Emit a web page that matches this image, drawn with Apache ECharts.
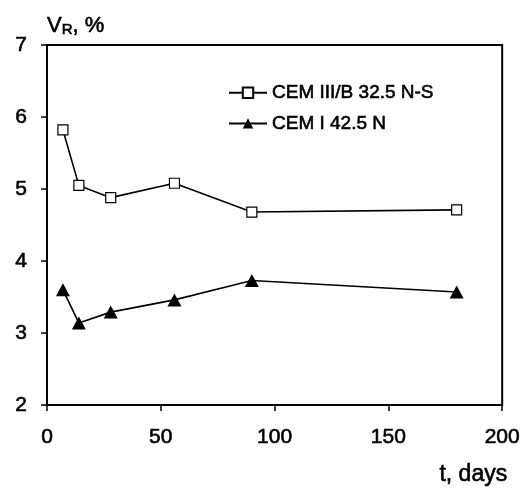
<!DOCTYPE html>
<html><head><meta charset="utf-8">
<script src="https://cdn.jsdelivr.net/npm/echarts@6/dist/echarts.min.js"></script>
<style>html,body{margin:0;padding:0;background:#fff}#c{width:523px;height:488px}</style>
</head><body><div id="c"></div>
<script>
const days = [7, 14, 28, 56, 90, 180];
const cem3 = [5.82, 5.05, 4.88, 5.08, 4.68, 4.71];
const cem1 = [3.60, 3.14, 3.29, 3.46, 3.73, 3.57];
const seriesNames = ['CEM III/B 32.5 N-S', 'CEM I 42.5 N'];
const xTicks = [0, 50, 100, 150, 200];
const yTicks = [2, 3, 4, 5, 6, 7];

const FONT = 'Liberation Sans';
const thick = {textBorderColor: '#000', textBorderWidth: 0.6};
const chart = echarts.init(document.getElementById('c'), null, {renderer: 'canvas'});
const axisCommon = {
  axisLine: {show: true, onZero: false, lineStyle: {color: '#000', width: 2}},
  axisTick: {show: true, inside: false, length: 6, lineStyle: {color: '#000', width: 1.5}},
  splitLine: {show: false},
  axisLabel: Object.assign({color: '#000', fontFamily: FONT, fontSize: 21}, thick)
};
chart.setOption({
  animation: false,
  backgroundColor: '#fff',
  grid: {left: 47, right: 17, top: 45, bottom: 83, show: true, borderColor: '#000', borderWidth: 2, containLabel: false},
  legend: {
    show: true, left: 223, top: 78, orient: 'vertical', itemGap: 11,
    itemWidth: 38, itemHeight: 13,
    textStyle: Object.assign({color: '#000', fontFamily: FONT, fontSize: 19}, thick),
    data: seriesNames
  },
  xAxis: Object.assign({}, axisCommon, {
    type: 'value', min: 0, max: 200, interval: 50,
    axisLabel: Object.assign({}, axisCommon.axisLabel, {margin: 22}),
    name: 't, days', nameLocation: 'end', nameGap: 5,
    nameTextStyle: Object.assign({color: '#000', fontFamily: FONT, fontSize: 23, align: 'right', verticalAlign: 'top', padding: [58, 0, 0, 0]}, thick)
  }),
  yAxis: Object.assign({}, axisCommon, {
    type: 'value', min: 2, max: 7, interval: 1,
    axisLabel: Object.assign({}, axisCommon.axisLabel, {margin: 20}),
    name: '{a|V}{b|R}{a|, %}', nameLocation: 'end', nameGap: 8,
    nameTextStyle: {align: 'left', padding: [0, 0, 0, 0],
      rich: {a: Object.assign({color: '#000', fontFamily: FONT, fontSize: 22}, thick), b: Object.assign({color: '#000', fontFamily: FONT, fontSize: 15, verticalAlign: 'bottom', padding: [8, 0, 0, 0]}, thick)}}
  }),
  series: [
    {name: seriesNames[0], type: 'line', data: days.map((d, i) => [d, cem3[i]]),
      symbol: 'rect', symbolSize: 10, showAllSymbol: true,
      itemStyle: {color: '#fff', borderColor: '#000', borderWidth: 1.2},
      lineStyle: {color: '#000', width: 1.6}, z: 3},
    {name: seriesNames[1], type: 'line', data: days.map((d, i) => [d, cem1[i]]),
      symbol: 'triangle', symbolSize: [14, 13], showAllSymbol: true,
      itemStyle: {color: '#000', borderColor: '#000', borderWidth: 0},
      lineStyle: {color: '#000', width: 1.6}, z: 3}
  ]
});
</script></body></html>
